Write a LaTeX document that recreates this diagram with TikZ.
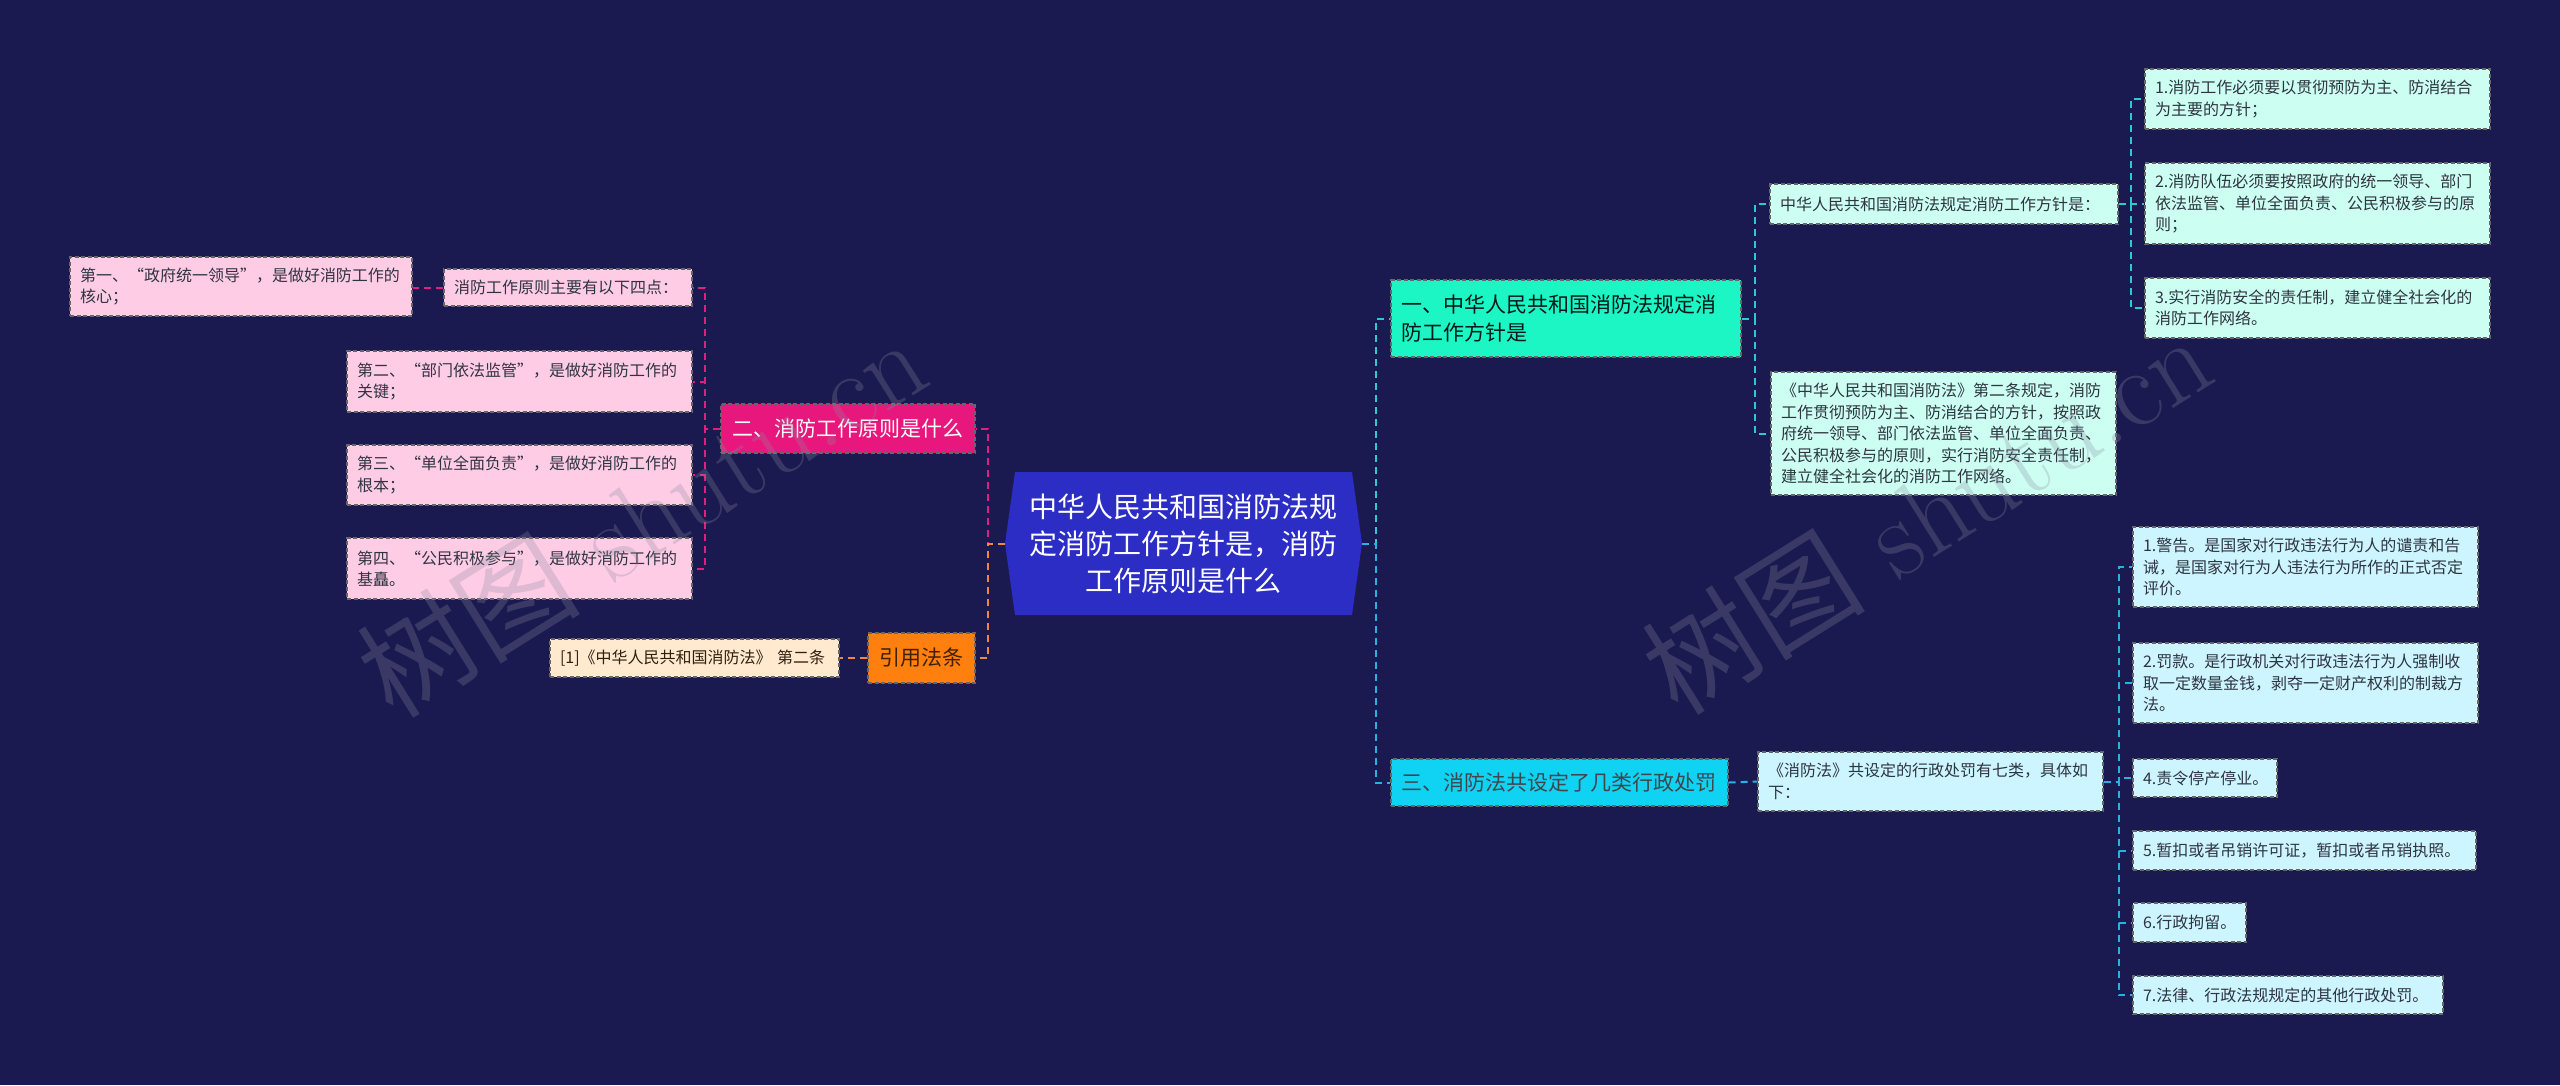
\documentclass[tikz,border=0pt]{standalone}
\usepackage{fontspec}
\usepackage{xcolor}
\newfontfamily\cjk{Noto Sans CJK SC}
\definecolor{bgnavy}{HTML}{1B1A50}
\definecolor{rootblue}{HTML}{2B2DC4}
\definecolor{pinkhead}{HTML}{E8177D}
\definecolor{pinkleaf}{HTML}{FFCCE6}
\definecolor{orangehead}{HTML}{FF7F0F}
\definecolor{peachleaf}{HTML}{FFE9CF}
\definecolor{aquahead}{HTML}{1CF5C4}
\definecolor{mintleaf}{HTML}{CCFFF2}
\definecolor{skyhead}{HTML}{10D2F2}
\definecolor{skyleaf}{HTML}{CCF5FF}
\definecolor{lnpink}{HTML}{E0207F}
\definecolor{lnorange}{HTML}{F0873A}
\definecolor{lnteal}{HTML}{30C8D0}
\definecolor{lnsky}{HTML}{2AB0E8}
\definecolor{inkdark}{HTML}{2E3440}
\definecolor{wmgray}{HTML}{8C8CA0}

\begin{document}
\begin{tikzpicture}[x=1pt, y=-1pt,
  every node/.style={inner xsep=10pt, inner ysep=0pt, align=left},
  frame/.style={draw=black!60, dash pattern=on 4pt off 2.5pt, line width=1.3pt},
  minor/.style={frame, font=\cjk\fontsize{16}{21.5}\selectfont, text=inkdark},
  major/.style={frame, font=\cjk\fontsize{21}{28}\selectfont},
  link/.style={line width=2pt, dash pattern=on 7pt off 5pt},
  stamp/.style={rotate=32, opacity=0.28, text=wmgray, font=\fontsize{112}{112}\selectfont}]
  \fill[bgnavy] (0,0) rectangle (2560,1085);
  \useasboundingbox (0,0) rectangle (2560,1085);

  % root
  \fill[rootblue] (1005,543.5) -- (1015,472) -- (1352,472) -- (1362,543.5)
    -- (1352,615) -- (1015,615) -- cycle;
  \node[font=\cjk\fontsize{28}{37}\selectfont, text=white, align=center,
    minimum width=357pt, minimum height=143pt] (root) at (1183.5,543.5)
    {中华人民共和国消防法规\\定消防工作方针是，消防\\工作原则是什么};

  % left: principles
  \node[major, fill=pinkhead, text=white, minimum width=254pt, minimum height=49pt] (n6) at (848,428.5) {二、消防工作原则是什么};
  \node[minor, fill=pinkleaf, text width=228pt, minimum height=37pt] (n2) at (568,287.5) {消防工作原则主要有以下四点：};
  \node[minor, fill=pinkleaf, text width=322pt, minimum height=59pt] (n1) at (241,286.5) {第一、“政府统一领导”，是做好消防工作的\\核心；};
  \node[minor, fill=pinkleaf, text width=325pt, minimum height=61pt] (n3) at (519.5,381.5) {第二、“部门依法监管”，是做好消防工作的\\关键；};
  \node[minor, fill=pinkleaf, text width=325pt, minimum height=60pt] (n4) at (519.5,475) {第三、“单位全面负责”，是做好消防工作的\\根本；};
  \node[minor, fill=pinkleaf, text width=325pt, minimum height=61pt] (n5) at (519.5,568.5) {第四、“公民积极参与”，是做好消防工作的\\基矗。};

  % left: cited article
  \node[major, fill=orangehead, text=black!75!orange, minimum width=107pt, minimum height=50pt] (n7) at (921.5,658) {引用法条};
  \node[minor, fill=peachleaf, text=black!75!brown, text width=269pt, minimum height=38pt] (n8) at (694.5,658) {[1]《中华人民共和国消防法》 第二条};

  % right: policy
  \node[major, fill=aquahead, text=black!80!teal, text width=330pt, minimum height=77pt] (nA) at (1566,318.5) {一、中华人民共和国消防法规定消\\防工作方针是};
  \node[minor, fill=mintleaf, text width=328pt, minimum height=40pt] (nC) at (1944,204) {中华人民共和国消防法规定消防工作方针是：};
  \node[minor, fill=mintleaf, text width=325pt, minimum height=123pt] (nD) at (1943.5,433.5) {《中华人民共和国消防法》第二条规定，消防\\工作贯彻预防为主、防消结合的方针，按照政\\府统一领导、部门依法监管、单位全面负责、\\公民积极参与的原则，实行消防安全责任制，\\建立健全社会化的消防工作网络。};
  \node[minor, fill=mintleaf, text width=325pt, minimum height=60pt] (nC1) at (2317.5,99) {1.消防工作必须要以贯彻预防为主、防消结合\\为主要的方针；};
  \node[minor, fill=mintleaf, text width=325pt, minimum height=81pt] (nC2) at (2317.5,203.5) {2.消防队伍必须要按照政府的统一领导、部门\\依法监管、单位全面负责、公民积极参与的原\\则；};
  \node[minor, fill=mintleaf, text width=325pt, minimum height=60pt] (nC3) at (2317.5,308) {3.实行消防安全的责任制，建立健全社会化的\\消防工作网络。};

  % right: penalties
  \node[major, fill=skyhead, text=black!80!cyan, text width=317pt, minimum height=47pt] (nB) at (1559.5,782.5) {三、消防法共设定了几类行政处罚};
  \node[minor, fill=skyleaf, text width=325pt, minimum height=59pt] (nE) at (1930.5,781.5) {《消防法》共设定的行政处罚有七类，具体如\\下：};
  \node[minor, fill=skyleaf, text width=325pt, minimum height=80pt] (nE1) at (2305.5,567) {1.警告。是国家对行政违法行为人的谴责和告\\诫，是国家对行为人违法行为所作的正式否定\\评价。};
  \node[minor, fill=skyleaf, text width=325pt, minimum height=80pt] (nE2) at (2305.5,683) {2.罚款。是行政机关对行政违法行为人强制收\\取一定数量金钱，剥夺一定财产权利的制裁方\\法。};
  \node[minor, fill=skyleaf, text width=124pt, minimum height=38pt] (nE4) at (2205,778) {4.责令停产停业。};
  \node[minor, fill=skyleaf, text width=323pt, minimum height=39pt] (nE5) at (2304.5,850.5) {5.暂扣或者吊销许可证，暂扣或者吊销执照。};
  \node[minor, fill=skyleaf, text width=93pt, minimum height=39pt] (nE6) at (2189.5,922.5) {6.行政拘留。};
  \node[minor, fill=skyleaf, text width=290pt, minimum height=38pt] (nE7) at (2288,995) {7.法律、行政法规规定的其他行政处罚。};

  % connectors, left
  \draw[link, lnpink] (root.west) -- ++(-17,0) |- (n6.east);
  \draw[link, lnorange] (root.west) -- ++(-17,0) |- (n7.east);
  \foreach \k in {n2,n3,n4,n5}
    \draw[link, lnpink] (n6.west) -- ++(-15,0) |- (\k.east);
  \draw[link, lnpink] (n2.west) -- (n1.east |- n2.west);
  \draw[link, lnorange] (n7.west) -- (n8.east);
  % connectors, right
  \draw[link, lnteal] (root.east) -- ++(14,0) |- (nA.west);
  \draw[link, lnsky] (root.east) -- ++(14,0) |- (nB.west);
  \foreach \k in {nC,nD}
    \draw[link, lnteal] (nA.east) -- ++(13,0) |- (\k.west);
  \foreach \k in {nC1,nC2,nC3}
    \draw[link, lnteal] (nC.east) -- ++(12,0) |- (\k.west);
  \draw[link, lnsky] (nB.east) -- (nE.west);
  \foreach \k in {nE1,nE2,nE4,nE5,nE6,nE7}
    \draw[link, lnsky] (nE.east) -- ++(15,0) |- (\k.west);

  % watermark
  \node[stamp] (wm1) at (641,516) {{\cjk 树图} shutu.cn};
  \node[stamp] (wm2) at (1926,513) {{\cjk 树图} shutu.cn};
\end{tikzpicture}
\end{document}
